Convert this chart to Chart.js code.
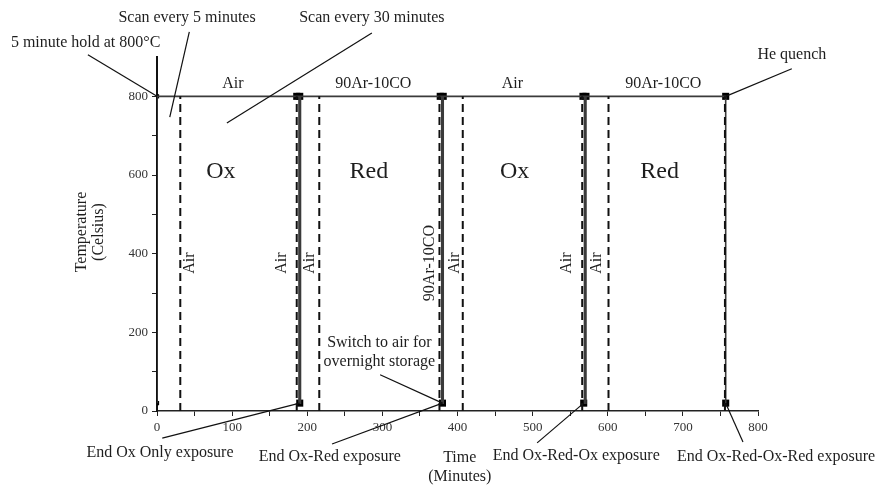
<!DOCTYPE html>
<html>
<head>
<meta charset="utf-8">
<script src="https://cdn.jsdelivr.net/npm/chart.js@4.4.1/dist/chart.umd.min.js"></script>
<style>
  html, body { margin: 0; padding: 0; background: #fff; }
  #wrap { width: 881px; height: 487px; }
</style>
</head>
<body>
<div id="wrap"><canvas id="chart"></canvas></div>
<script>
// Furnace temperature profile (time in minutes, temperature in Celsius)
const profileTime = [0, 0, 189, 189, 191, 191, 379, 379, 381, 381, 569, 569, 571, 571, 757, 757];
const profileTemp = [20, 800, 800, 20, 20, 800, 800, 20, 20, 800, 800, 20, 20, 800, 800, 20];

// Scan points (squares) at hold temperature and after quench
const scanTopTime = [0, 186, 190, 377, 381, 567, 571, 757];
const scanTopTemp = [800, 800, 800, 800, 800, 800, 800, 800];
const scanBottomTime = [0, 190, 380, 568, 757];
const scanBottomTemp = [20, 20, 20, 20, 20];

// Gas switch times (dashed verticals), drawn from 0 to 800 C
const gasSwitchTime = [31, 186, 216, 376, 407, 566, 601, 756];
const gasSwitchSpan = [0, 800];

// Axis ticks
const xTickLabels = [0, 100, 200, 300, 400, 500, 600, 700, 800];
const yTickLabels = [0, 200, 400, 600, 800];

const FONT = '"Liberation Serif", "Times New Roman", serif';
const INK = '#1e1e1e';

const datasets = [];

gasSwitchTime.forEach(t => {
    datasets.push({
        data: gasSwitchSpan.map(v => ({ x: t, y: v })),
        showLine: true,
        borderColor: '#111',
        borderWidth: 2,
        borderDash: [8, 5],
        pointRadius: 0
    });
});

datasets.push({
    data: profileTime.map((t, i) => ({ x: t, y: profileTemp[i] })),
    showLine: true,
    borderColor: '#3a3a3a',
    borderWidth: 1.6,
    pointRadius: 0
});

datasets.push({
    data: scanTopTime.map((t, i) => ({ x: t, y: scanTopTemp[i] })),
    pointStyle: 'rect',
    pointRadius: scanTopTime.map(t => t === 0 ? 3 : 5),
    backgroundColor: '#000',
    borderColor: '#000',
    borderWidth: 0
});

datasets.push({
    data: scanBottomTime.map((t, i) => ({ x: t, y: scanBottomTemp[i] })),
    pointStyle: 'rect',
    pointRadius: scanBottomTime.map(t => t === 0 ? 3 : 5),
    backgroundColor: '#000',
    borderColor: '#000',
    borderWidth: 0
});

// Text placed in data coordinates; leader lines go from [x1,y1] to [x2,y2]
const notes = [
    { text: ['5 minute hold at 800°C'], at: [-95, 936], line: [-92, 906, 0, 800] },
    { text: ['Scan every 5 minutes'], at: [40, 999], line: [43, 964, 17, 747] },
    { text: ['Scan every 30 minutes'], at: [286, 999], line: [286, 961, 93, 732] },
    { text: ['He quench'], at: [845, 905], line: [845, 870, 757, 800] },
    { text: ['Switch to air for', 'overnight storage'], at: [296, 149], line: [297, 92, 380, 20] },
    { text: ['End Ox Only exposure'], at: [4, -107], line: [7, -69, 190, 20] },
    { text: ['End Ox-Red exposure'], at: [230, -117], line: [233, -84, 380, 20] },
    { text: ['Time', '(Minutes)'], at: [403, -143] },
    { text: ['End Ox-Red-Ox exposure'], at: [558, -114], line: [506, -81, 568, 20] },
    { text: ['End Ox-Red-Ox-Red exposure'], at: [824, -117], line: [780, -79, 757, 20] }
];

const gasLabels = [
    { text: 'Air', at: [101, 831] },
    { text: '90Ar-10CO', at: [288, 831] },
    { text: 'Air', at: [473, 831] },
    { text: '90Ar-10CO', at: [674, 831] }
];

const stageLabels = [
    { text: 'Ox', at: [85, 608] },
    { text: 'Red', at: [282, 608] },
    { text: 'Ox', at: [476, 608] },
    { text: 'Red', at: [669, 608] }
];

const sideLabels = [
    { text: 'Air', at: [43, 376] },
    { text: 'Air', at: [166, 376] },
    { text: 'Air', at: [204, 376] },
    { text: '90Ar-10CO', at: [363, 376] },
    { text: 'Air', at: [397, 376] },
    { text: 'Air', at: [546, 376] },
    { text: 'Air', at: [586, 376] }
];

const notesPlugin = {
    id: 'notes',
    afterDatasetsDraw(chart) {
        const { ctx, scales: { x, y } } = chart;
        ctx.save();
        ctx.fillStyle = INK;
        ctx.strokeStyle = '#111';
        ctx.textAlign = 'center';
        ctx.textBaseline = 'middle';

        ctx.font = '16px ' + FONT;
        notes.forEach(n => {
            const cx = x.getPixelForValue(n.at[0]);
            const cy = y.getPixelForValue(n.at[1]);
            const lh = 19;
            n.text.forEach((s, i) => {
                ctx.fillText(s, cx, cy + (i - (n.text.length - 1) / 2) * lh);
            });
            if (n.line) {
                ctx.lineWidth = 1.2;
                ctx.beginPath();
                ctx.moveTo(x.getPixelForValue(n.line[0]), y.getPixelForValue(n.line[1]));
                ctx.lineTo(x.getPixelForValue(n.line[2]), y.getPixelForValue(n.line[3]));
                ctx.stroke();
            }
        });

        gasLabels.forEach(g => {
            ctx.fillText(g.text, x.getPixelForValue(g.at[0]), y.getPixelForValue(g.at[1]));
        });

        sideLabels.forEach(s => {
            ctx.save();
            ctx.translate(x.getPixelForValue(s.at[0]), y.getPixelForValue(s.at[1]));
            ctx.rotate(-Math.PI / 2);
            ctx.fillText(s.text, 0, 0);
            ctx.restore();
        });

        // y axis title, two lines
        ctx.save();
        ctx.translate(90, y.getPixelForValue(455));
        ctx.rotate(-Math.PI / 2);
        ctx.fillText('Temperature', 0, -8);
        ctx.fillText('(Celsius)', 0, 9);
        ctx.restore();

        ctx.font = '24px ' + FONT;
        stageLabels.forEach(s => {
            ctx.fillText(s.text, x.getPixelForValue(s.at[0]), y.getPixelForValue(s.at[1]));
        });

        ctx.restore();
    }
};

new Chart(document.getElementById('chart').getContext('2d'), {
    type: 'scatter',
    data: { datasets },
    options: {
        responsive: true,
        maintainAspectRatio: false,
        animation: false,
        events: [],
        layout: { padding: { left: 0, top: 57, right: 123, bottom: 0 } },
        plugins: {
            legend: { display: false },
            tooltip: { enabled: false }
        },
        scales: {
            x: {
                type: 'linear',
                min: 0,
                max: 800,
                afterFit: scale => { scale.height = 76; },
                border: { display: true, color: '#222', width: 1.5 },
                grid: { drawOnChartArea: false, tickLength: 5, color: '#222' },
                ticks: {
                    stepSize: 50,
                    padding: 4,
                    color: '#333',
                    font: { family: FONT, size: 13 },
                    maxRotation: 0,
                    autoSkip: false,
                    callback: v => xTickLabels.includes(v) ? String(v) : ''
                }
            },
            y: {
                min: 0,
                max: 900,
                afterFit: scale => { scale.width = 157; },
                border: { display: true, color: '#111', width: 2 },
                grid: {
                    drawOnChartArea: false,
                    tickLength: 5,
                    color: c => c.tick && c.tick.value === 900 ? 'rgba(0,0,0,0)' : '#222'
                },
                ticks: {
                    stepSize: 100,
                    padding: 4,
                    color: '#333',
                    font: { family: FONT, size: 13 },
                    autoSkip: false,
                    callback: v => yTickLabels.includes(v) ? String(v) : ''
                }
            }
        }
    },
    plugins: [notesPlugin]
});
</script>
</body>
</html>
